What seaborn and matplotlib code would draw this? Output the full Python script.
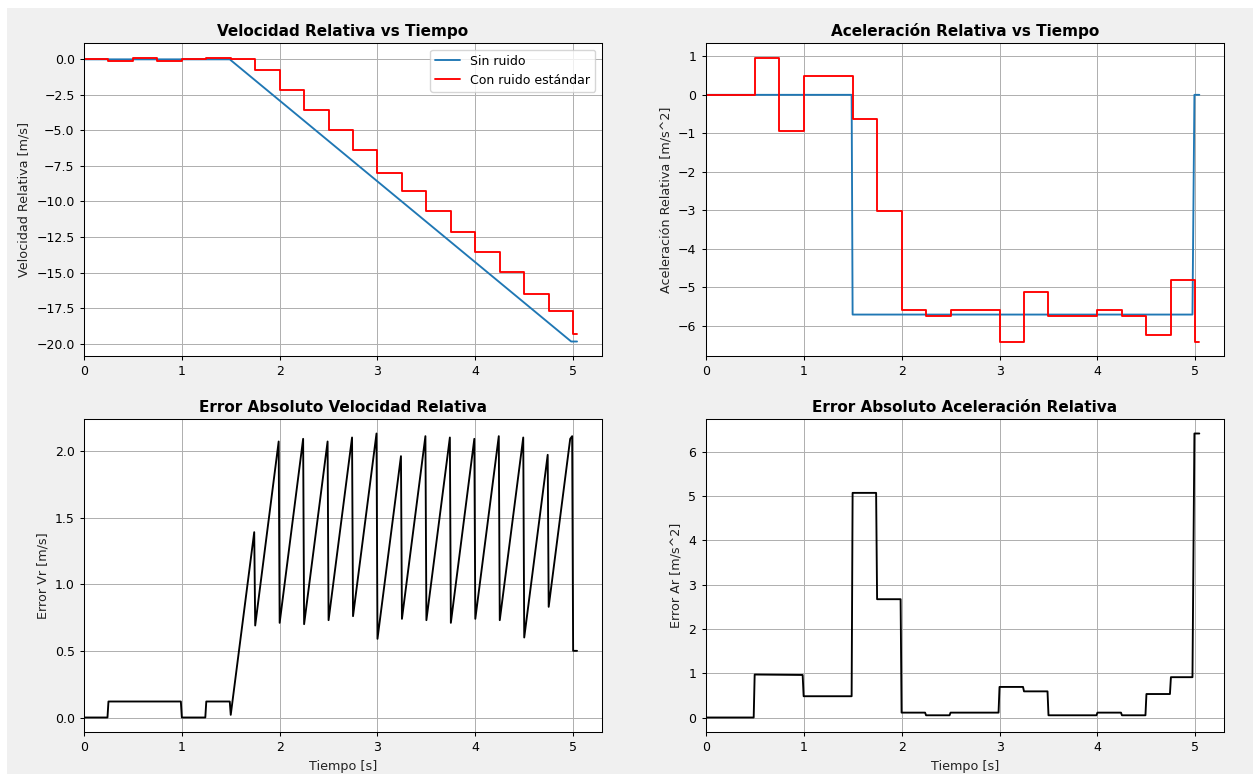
import numpy as np
import pandas as pd
import matplotlib
matplotlib.use("Agg")
import matplotlib.pyplot as plt
from matplotlib.patches import Rectangle
import seaborn as sns

# ---------------- data ----------------
# zero-order-hold sample times of the noisy signals
t_hold = [0.0, 0.25, 0.5, 0.75, 1.0, 1.25, 1.5, 1.75, 2.0, 2.25, 2.5,
          2.75, 3.0, 3.25, 3.5, 3.75, 4.0, 4.25, 4.5, 4.75, 5.0]
t_last = 5.04

# noisy relative velocity (held values)
vel_noisy = [0.0, -0.12, 0.13, -0.12, 0.0, 0.12, 0.0, -0.73, -2.15, -3.58, -4.98,
             -6.38, -7.98, -9.25, -10.69, -12.14, -13.54, -14.97, -16.53, -17.73, -19.35]
# noisy relative acceleration (held values)
acc_noisy = [0.0, 0.0, 0.97, -0.95, 0.48, 0.48, -0.63, -3.03, -5.60, -5.75, -5.60,
             -5.60, -6.41, -5.12, -5.75, -5.75, -5.60, -5.75, -6.23, -4.80, -6.41]

# ideal (noise-free) signals: breakpoints
t_vel_ideal = [0.0, 1.49, 4.98, 5.04]
vel_ideal = [0.0, 0.0, -19.85, -19.85]
t_acc_ideal = [0.0, 1.49, 1.50, 4.97, 4.99, 5.04]
acc_ideal = [0.0, 0.0, -5.71, -5.71, 0.0, 0.0]

# absolute velocity error (sawtooth vertices)
t_err_v = [0.0, 0.24, 0.25, 0.99, 1.0, 1.24, 1.25, 1.49, 1.50, 1.74, 1.75, 1.99, 2.0,
           2.24, 2.25, 2.49, 2.5, 2.74, 2.75, 2.99, 3.0, 3.24, 3.25, 3.49, 3.5,
           3.74, 3.75, 3.99, 4.0, 4.24, 4.25, 4.49, 4.5, 4.74, 4.75, 4.97, 4.99,
           5.0, 5.04]
err_v = [0.0, 0.0, 0.12, 0.12, 0.0, 0.0, 0.12, 0.12, 0.02, 1.39, 0.69, 2.07, 0.71,
         2.09, 0.70, 2.07, 0.73, 2.10, 0.76, 2.13, 0.59, 1.96, 0.74, 2.11, 0.73,
         2.10, 0.71, 2.09, 0.74, 2.11, 0.73, 2.10, 0.60, 1.97, 0.83, 2.09, 2.11,
         0.50, 0.50]

# absolute acceleration error (step vertices)
t_err_a = [0.0, 0.49, 0.50, 0.99, 1.0, 1.49, 1.50, 1.74, 1.75, 1.99, 2.0, 2.24, 2.25,
           2.49, 2.5, 2.99, 3.0, 3.24, 3.25, 3.49, 3.5, 3.99, 4.0, 4.24, 4.25,
           4.49, 4.5, 4.74, 4.75, 4.97, 4.99, 5.04]
err_a = [0.0, 0.0, 0.97, 0.96, 0.48, 0.48, 5.07, 5.07, 2.67, 2.67, 0.11, 0.11, 0.05,
         0.05, 0.11, 0.11, 0.69, 0.69, 0.59, 0.59, 0.05, 0.05, 0.11, 0.11, 0.05,
         0.05, 0.53, 0.53, 0.91, 0.91, 6.41, 6.41]

titles = ["Velocidad Relativa vs Tiempo", "Aceleración Relativa vs Tiempo",
          "Error Absoluto Velocidad Relativa", "Error Absoluto Aceleración Relativa"]
ylabels = ["Velocidad Relativa [m/s]", "Aceleración Relativa [m/s^2]",
           "Error Vr [m/s]", "Error Ar [m/s^2]"]
xlabel = "Tiempo [s]"
legend_labels = ["Sin ruido", "Con ruido estándar"]

# ---------------- style ----------------
sns.set_style("ticks")
plt.rcParams.update({
    "font.family": ["DejaVu Sans"],
    "axes.edgecolor": "black",
    "axes.linewidth": 0.75,
    "xtick.color": "black",
    "ytick.color": "black",
    "xtick.direction": "out",
    "ytick.direction": "out",
    "xtick.major.size": 3.2,
    "ytick.major.size": 3.2,
    "xtick.major.width": 0.75,
    "ytick.major.width": 0.75,
    "xtick.labelsize": 9,
    "ytick.labelsize": 9,
    "axes.labelcolor": "#222222",
    "text.color": "black",
    "axes.unicode_minus": True,
})

W, H = 1253, 774
fig = plt.figure(figsize=(W / 100, H / 100), dpi=100, facecolor="white")
fig.patches.append(Rectangle((7 / W, 0), 1 - 7 / W, 1 - 8 / H, transform=fig.transFigure,
                             facecolor="#f0f0f0", edgecolor="none", zorder=-10))

lefts = [84 / W, 705.7 / W]
widths = [517.7 / W, 518.3 / W]
bottoms = [1 - 355.7 / H, 1 - 731.7 / H]
height = 312.4 / H

axes = []
for r in range(2):
    for c in range(2):
        ax = fig.add_axes([lefts[c], bottoms[r], widths[c], height])
        ax.set_facecolor("white")
        axes.append(ax)

BLUE = "#1f77b4"
RED = "#ff0000"
LW = 1.35

t_hold_ext = t_hold + [t_last]

# Velocity
ax = axes[0]
sns.lineplot(x=t_vel_ideal, y=vel_ideal, ax=ax, color=BLUE, lw=LW, estimator=None,
             sort=False, label=legend_labels[0])
sns.lineplot(x=t_hold_ext, y=vel_noisy + [vel_noisy[-1]], ax=ax, color=RED, lw=LW,
             estimator=None, sort=False, drawstyle="steps-post", label=legend_labels[1])
leg = ax.legend(loc="upper right", fontsize=9, frameon=True, fancybox=True,
                framealpha=0.8, edgecolor="#cccccc")

# Acceleration
ax = axes[1]
sns.lineplot(x=t_acc_ideal, y=acc_ideal, ax=ax, color=BLUE, lw=LW, estimator=None, sort=False)
sns.lineplot(x=t_hold_ext, y=acc_noisy + [acc_noisy[-1]], ax=ax, color=RED, lw=LW,
             estimator=None, sort=False, drawstyle="steps-post")

# Errors
ax = axes[2]
sns.lineplot(x=t_err_v, y=err_v, ax=ax, color="black", lw=LW, estimator=None, sort=False)
ax = axes[3]
sns.lineplot(x=t_err_a, y=err_a, ax=ax, color="black", lw=LW, estimator=None, sort=False)

for i, ax in enumerate(axes):
    ax.set_title(titles[i], fontsize=11, fontweight="bold", pad=5.5)
    ax.set_ylabel(ylabels[i], fontsize=9.2)
    ax.set_xlabel(xlabel if i >= 2 else "", fontsize=9.2)
    ax.grid(True, color="#b0b0b0", lw=0.72)
    ax.set_axisbelow(True)
    ax.margins(x=0.05, y=0.05)
    ax.set_xlim(0, t_last * 1.05)
    ax.set_xticks([0, 1, 2, 3, 4, 5])
    for s in ax.spines.values():
        s.set_visible(True)
        s.set_color("black")

fig.savefig("out.png", dpi=100, facecolor=fig.get_facecolor())
